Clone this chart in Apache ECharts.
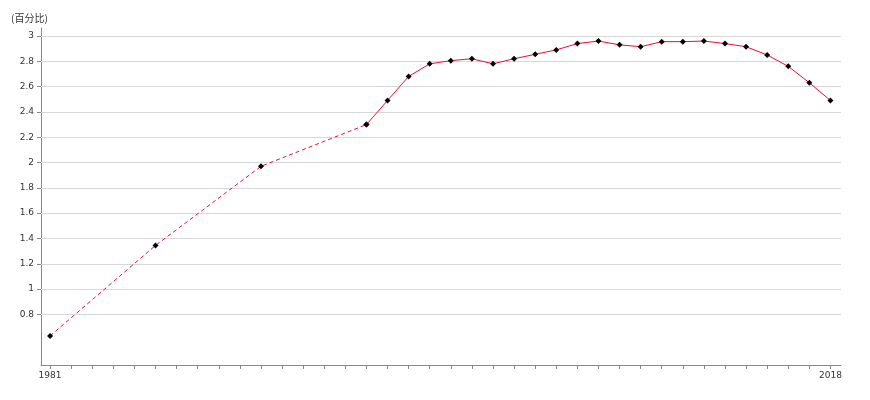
<!DOCTYPE html>
<html><head><meta charset="utf-8">
<script src="https://cdn.jsdelivr.net/npm/echarts@6/dist/echarts.min.js"></script>
<style>html,body{margin:0;padding:0;background:#fff}#c{width:870px;height:400px}</style>
</head><body><div id="c"></div>
<script>
const unitLabel = '(百分比)';
const dashedYears = [1981, 1986, 1991, 1996];
const dashedValues = [0.63, 1.345, 1.97, 2.30];
const solidYears = [1996,1997,1998,1999,2000,2001,2002,2003,2004,2005,2006,2007,2008,2009,2010,2011,2012,2013,2014,2015,2016,2017,2018];
const solidValues = [2.30,2.49,2.68,2.78,2.805,2.82,2.78,2.82,2.855,2.89,2.94,2.96,2.93,2.915,2.955,2.955,2.96,2.94,2.915,2.85,2.76,2.63,2.49];
const yTicks = [0.8,1,1.2,1.4,1.6,1.8,2,2.2,2.4,2.6,2.8,3];
const xLabelYears = [1981, 2018];
const xTickYears = [];
for (let y = 1981; y <= 2018; y++) xTickYears.push(y);

const chart = echarts.init(document.getElementById('c'), null, {renderer:'canvas'});
const lineColor = '#ee0a3c';
const fontFam = '"DejaVu Sans", "Noto Sans CJK SC", sans-serif';
chart.setOption({
  animation: false,
  title: {text: unitLabel, left: 6, top: 8, textStyle: {fontSize: 10, fontWeight: 'normal', color: '#333', fontFamily: '"Noto Sans CJK SC", sans-serif'}},
  grid: {left: 41, right: 29, top: 28, bottom: 35},
  xAxis: {
    type: 'value', min: 1980.57, max: 2018.5,
    axisLine: {lineStyle: {color: '#888'}},
    axisTick: {customValues: xTickYears, length: 4, lineStyle: {color: '#888'}},
    axisLabel: {customValues: xLabelYears, formatter: v => String(v), color: '#333', fontSize: 9, fontFamily: fontFam, margin: 6},
    splitLine: {show: false}
  },
  yAxis: {
    type: 'value', min: 0.4, max: 3.063,
    axisLine: {show: true, lineStyle: {color: '#888'}},
    axisTick: {show: true, customValues: yTicks, length: 4, lineStyle: {color: '#888'}},
    axisLabel: {customValues: yTicks, color: '#333', fontSize: 9, fontFamily: fontFam, margin: 7},
    splitLine: {show: false}
  },
  series: [
    {
      type: 'line', data: dashedYears.map((y, i) => [y, dashedValues[i]]),
      lineStyle: {color: lineColor, width: 1, type: [4, 3]},
      symbol: 'diamond', symbolSize: 6, itemStyle: {color: '#000'},
      z: 3,
      markLine: {
        silent: true, symbol: 'none', label: {show: false},
        lineStyle: {color: '#d8d8d8', width: 1, type: 'solid'},
        data: yTicks.map(v => ({yAxis: v})),
        z: 1
      }
    },
    {
      type: 'line', data: solidYears.map((y, i) => [y, solidValues[i]]),
      lineStyle: {color: lineColor, width: 1},
      symbol: 'diamond', symbolSize: 6, itemStyle: {color: '#000'},
      z: 3
    }
  ]
});
</script></body></html>
